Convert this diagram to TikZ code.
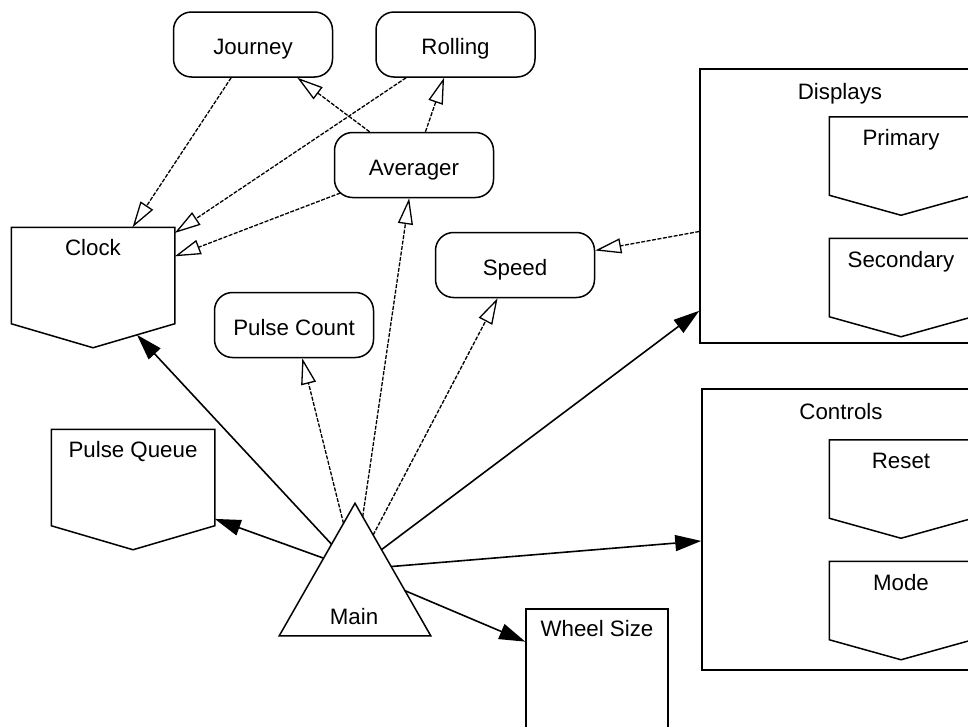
\documentclass[tikz,border=0pt]{standalone}
\usepackage{fontspec}
\setmainfont{Liberation Sans}
\usetikzlibrary{arrows.meta,intersections}

\tikzset{
  every node/.style={font=\fontsize{22.3pt}{26pt}\selectfont},
  outline/.style={draw, line width=1.5pt},
  rbox/.style={outline, rounded corners=18pt, minimum width=159pt, minimum height=65pt,
    inner sep=0pt, text height=20pt, text depth=0pt},
  holder/.style={rectangle, draw=none, inner sep=0pt, outer sep=0.75pt},
  caption/.style={inner sep=0pt, anchor=base},
  depends/.style={line width=1.3pt, dash pattern=on 4pt off 1.5pt,
    -{Triangle[open,length=26pt,width=15pt]}},
  owns/.style={line width=1.6pt, -{Triangle[length=26pt,width=16pt]}},
}

% outline of a box with a pointed bottom, drawn around a holder node
\newcommand\pentoutline[2]{%
  \draw[outline, name path=#1-outline] (#1.north west) -- (#1.north east)
    -- ([yshift=#2]#1.south east) -- (#1.south) -- ([yshift=#2]#1.south west) -- cycle;}

% connector leaving the Main triangle towards a node
\newcommand\mainlink[2]{%
  \path[name path=ray-#2] (main.center) -- (#2.center);
  \draw[#1, name intersections={of=ray-#2 and main-outline, by=from-#2}] (from-#2) -- (#2);}

\begin{document}
\begin{tikzpicture}[x=1pt,y=-1pt]
\useasboundingbox (0,0) rectangle (968,726);
\begin{scope}
\clip (0,0) rectangle (968,726);

% rounded modules
\node[rbox] (journey)    at (253,44.5)  {Journey};
\node[rbox] (rolling)    at (455.5,44.5) {Rolling};
\node[rbox] (averager)   at (414,165)   {Averager};
\node[rbox] (speed)      at (515,265)   {Speed};
\node[rbox] (pulsecount) at (294,325)   {Pulse Count};

% pointed boxes
\node[holder, minimum width=162pt, minimum height=119pt] (clock) at (93,287.5) {};
\pentoutline{clock}{24pt}
\node[caption] (clock-text) at ([yshift=-28pt]clock.north) {Clock};

\node[holder, minimum width=162pt, minimum height=119pt] (pulsequeue) at (133,489.5) {};
\pentoutline{pulsequeue}{24pt}
\node[caption] (pulsequeue-text) at ([yshift=-28pt]pulsequeue.north) {Pulse Queue};

% Displays group
\node[holder, outline, minimum width=280pt, minimum height=274pt] (displays) at (840,206) {};
\node[caption] (displays-text) at ([yshift=-31pt]displays.north) {Displays};
\node[holder, minimum width=142pt, minimum height=97pt] (primary) at (901,166) {};
\pentoutline{primary}{20pt}
\node[caption] (primary-text) at ([yshift=-29pt]primary.north) {Primary};
\node[holder, minimum width=142pt, minimum height=97pt] (secondary) at (901,287.5) {};
\pentoutline{secondary}{20pt}
\node[caption] (secondary-text) at ([yshift=-29pt]secondary.north) {Secondary};

% Controls group
\node[holder, outline, minimum width=278pt, minimum height=281pt] (controls) at (841,529.5) {};
\node[caption] (controls-text) at ([yshift=-31pt]controls.north) {Controls};
\node[holder, minimum width=142pt, minimum height=97pt] (reset) at (901,489) {};
\pentoutline{reset}{20pt}
\node[caption] (reset-text) at ([yshift=-29pt]reset.north) {Reset};
\node[holder, minimum width=142pt, minimum height=97pt] (mode) at (901,610.5) {};
\pentoutline{mode}{20pt}
\node[caption] (mode-text) at ([yshift=-29pt]mode.north) {Mode};

% Wheel Size
\node[holder, outline, minimum width=142pt, minimum height=126pt] (wheelsize) at (597,672) {};
\node[caption] (wheelsize-text) at ([yshift=-28pt]wheelsize.north) {Wheel Size};

% Main triangle
\node[holder, minimum width=150pt, minimum height=131pt] (main) at (355,569.5) {};
\draw[outline, name path=main-outline] (main.north) -- (main.south east) -- (main.south west) -- cycle;
\node[caption] (main-text) at (354,624) {Main};

% dependencies between modules
\draw[depends] (journey) -- (clock);
\draw[depends] (rolling) -- (clock);
\draw[depends, shorten <=-7pt] (averager) -- (clock);
\draw[depends] (averager) -- (journey);
\draw[depends] (averager) -- (rolling);
\draw[depends] (displays) -- (speed);

% links from Main
\mainlink{depends}{pulsecount}
\mainlink{depends}{averager}
\mainlink{depends}{speed}
\mainlink{owns}{pulsequeue}
\mainlink{owns}{displays}
\mainlink{owns}{controls}
\mainlink{owns}{wheelsize}
\path[name path=ray-clock] (main.center) -- (clock.center);
\draw[owns, name intersections={of=ray-clock and main-outline, by=from-clock},
  name intersections={of=ray-clock and clock-outline, by=to-clock}] (from-clock) -- (to-clock);
\end{scope}
\end{tikzpicture}
\end{document}
